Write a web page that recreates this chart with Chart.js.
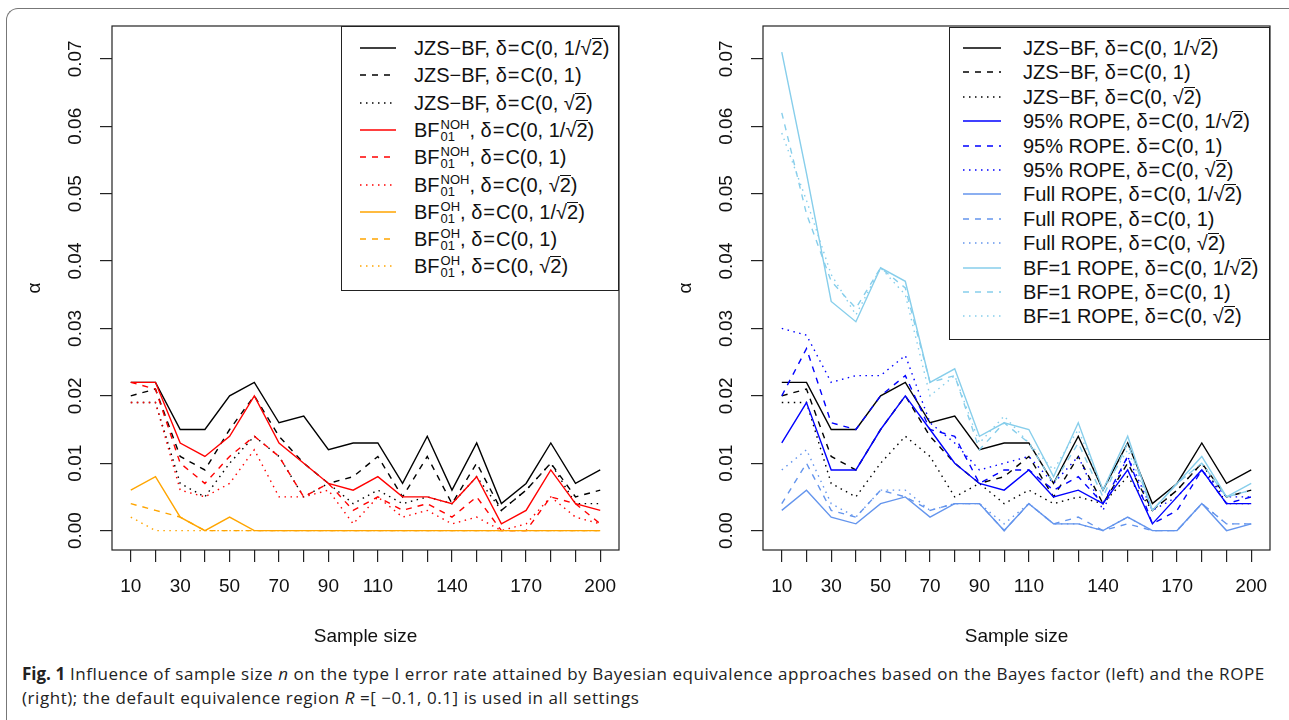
<!DOCTYPE html>
<html>
<head>
<meta charset="utf-8">
<script src="https://cdn.jsdelivr.net/npm/chart.js@4.4.1/dist/chart.umd.min.js"></script>
<style>
  body { margin: 0; background: #fff; width: 1289px; height: 720px; overflow: hidden; position: relative; font-family: "Liberation Sans", Arial, sans-serif; }
  #frame { position: absolute; left: 6px; top: 8px; right: -30px; bottom: -30px; border-left: 1.5px solid #777; border-top: 1.5px solid #777; border-top-left-radius: 12px; }
  .panel { position: absolute; top: 0; width: 638px; height: 660px; }
  .legend { position: absolute; border: 1.2px solid #222; background: #fff; box-sizing: border-box; }
  .row { position: absolute; left: 0; right: 0; height: 26px; color: #111; font-size: 20px; white-space: nowrap; }
  .row svg { position: absolute; top: 0; }
  .row .txt { position: absolute; top: 2px; line-height: 22px; }
  .ov { display: inline-block; border-top: 1.2px solid #111; line-height: 0.95; }
  .eq { margin: 0 1px; }
  .ss { display: inline-flex; flex-direction: column; font-size: 13px; line-height: 12px; vertical-align: 8px; margin-left: 1px; }
  #caption { position: absolute; left: 22px; top: 662px; font-family: "Open Sans", sans-serif; font-size: 17px; letter-spacing: 0.55px; line-height: 24px; color: #222; white-space: nowrap; }
  #caption b { font-weight: 700; letter-spacing: 0; }
</style>
</head>
<body>
<div id="frame"></div>
<canvas id="leftChart" class="panel" width="638" height="660" style="left:0"></canvas>
<canvas id="rightChart" class="panel" width="638" height="660" style="left:651px"></canvas>
<div id="leftLegend" class="legend" style="left:341px; top:26px; width:278px; height:265px"></div>
<div id="rightLegend" class="legend" style="left:949px; top:27px; width:321px; height:313px"></div>
<div id="caption"><b>Fig. 1</b> Influence of sample size <i>n</i> on the type I error rate attained by Bayesian equivalence approaches based on the Bayes factor (left) and the ROPE<br>(right); the default equivalence region <i>R</i> =[ −0.1, 0.1] is used in all settings</div>

<script>
// sample sizes and axis ticks
const sampleSizes = [10, 20, 30, 40, 50, 60, 70, 80, 90, 100, 110, 120, 130, 140, 150, 160, 170, 180, 190, 200];
const xTickLabels = [10, 30, 50, 70, 90, 110, 140, 170, 200];
const yTickValues = [0, 0.01, 0.02, 0.03, 0.04, 0.05, 0.06, 0.07];

// JZS Bayes factor (both panels)
const jzsA = [0.022, 0.022, 0.015, 0.015, 0.020, 0.022, 0.016, 0.017, 0.012, 0.013, 0.013, 0.007, 0.014, 0.006, 0.013, 0.004, 0.007, 0.013, 0.007, 0.009];
const jzsB = [0.020, 0.021, 0.011, 0.009, 0.015, 0.020, 0.014, 0.010, 0.007, 0.008, 0.011, 0.005, 0.011, 0.004, 0.010, 0.003, 0.006, 0.010, 0.005, 0.006];
const jzsC = [0.019, 0.019, 0.007, 0.005, 0.010, 0.014, 0.011, 0.005, 0.007, 0.004, 0.006, 0.004, 0.005, 0.004, 0.008, 0.003, 0.006, 0.010, 0.004, 0.004];

// left panel: BF01 NOH / OH
const nohA = [0.022, 0.022, 0.013, 0.011, 0.014, 0.020, 0.013, 0.010, 0.007, 0.006, 0.008, 0.005, 0.005, 0.004, 0.008, 0.001, 0.003, 0.009, 0.004, 0.003];
const nohB = [0.022, 0.021, 0.010, 0.007, 0.011, 0.014, 0.011, 0.005, 0.007, 0.003, 0.005, 0.003, 0.004, 0.002, 0.005, 0.000, 0.000, 0.005, 0.004, 0.001];
const nohC = [0.019, 0.019, 0.006, 0.005, 0.007, 0.012, 0.005, 0.005, 0.006, 0.001, 0.005, 0.002, 0.003, 0.001, 0.002, 0.000, 0.001, 0.005, 0.002, 0.001];
const ohA = [0.006, 0.008, 0.002, 0, 0.002, 0, 0, 0, 0, 0, 0, 0, 0, 0, 0, 0, 0, 0, 0, 0];
const ohB = [0.004, 0.003, 0.002, 0, 0, 0, 0, 0, 0, 0, 0, 0, 0, 0, 0, 0, 0, 0, 0, 0];
const ohC = [0.002, 0, 0, 0, 0, 0, 0, 0, 0, 0, 0, 0, 0, 0, 0, 0, 0, 0, 0, 0];

// right panel: ROPE variants
const ropeA = [0.013, 0.019, 0.009, 0.009, 0.015, 0.020, 0.015, 0.010, 0.007, 0.006, 0.009, 0.005, 0.006, 0.004, 0.009, 0.001, 0.005, 0.009, 0.004, 0.004];
const ropeB = [0.020, 0.027, 0.016, 0.015, 0.020, 0.023, 0.015, 0.014, 0.007, 0.009, 0.009, 0.006, 0.008, 0.004, 0.011, 0.001, 0.003, 0.009, 0.004, 0.005];
const ropeC = [0.030, 0.029, 0.022, 0.023, 0.023, 0.026, 0.016, 0.013, 0.009, 0.010, 0.011, 0.007, 0.011, 0.003, 0.011, 0.003, 0.005, 0.009, 0.005, 0.005];
const fullA = [0.003, 0.006, 0.002, 0.001, 0.004, 0.005, 0.002, 0.004, 0.004, 0.000, 0.004, 0.001, 0.001, 0.000, 0.002, 0.000, 0.000, 0.004, 0.000, 0.001];
const fullB = [0.004, 0.010, 0.003, 0.002, 0.006, 0.005, 0.003, 0.004, 0.004, 0.000, 0.004, 0.001, 0.002, 0.000, 0.001, 0.000, 0.000, 0.004, 0.001, 0.001];
const fullC = [0.009, 0.012, 0.004, 0.002, 0.006, 0.006, 0.003, 0.004, 0.004, 0.001, 0.004, 0.001, 0.001, 0.000, 0.002, 0.000, 0.000, 0.004, 0.001, 0.001];
const bf1A = [0.071, 0.053, 0.034, 0.031, 0.039, 0.037, 0.022, 0.024, 0.014, 0.016, 0.015, 0.008, 0.016, 0.006, 0.014, 0.003, 0.007, 0.011, 0.005, 0.007];
const bf1B = [0.062, 0.047, 0.037, 0.033, 0.039, 0.036, 0.022, 0.023, 0.012, 0.016, 0.013, 0.007, 0.013, 0.005, 0.013, 0.003, 0.007, 0.010, 0.005, 0.006];
const bf1C = [0.059, 0.049, 0.038, 0.032, 0.039, 0.035, 0.020, 0.023, 0.013, 0.017, 0.013, 0.009, 0.015, 0.006, 0.012, 0.003, 0.007, 0.010, 0.005, 0.006];

const sq = '√<span class="ov">2</span>';
const eq = '<span class="eq">=</span>';
const deltas = ['δ' + eq + 'C(0, 1/' + sq + ')', 'δ' + eq + 'C(0, 1)', 'δ' + eq + 'C(0, ' + sq + ')'];
const dashes = [[], [6, 6], [1.5, 4.5]];
const bf = (sup) => 'BF<span class="ss"><span>' + sup + '</span><span>01</span></span>';

const leftSeries = [
    { data: jzsA, color: "#000000", dash: 0, label: 'JZS−BF, ' + deltas[0] },
    { data: jzsB, color: "#000000", dash: 1, label: 'JZS−BF, ' + deltas[1] },
    { data: jzsC, color: "#000000", dash: 2, label: 'JZS−BF, ' + deltas[2] },
    { data: nohA, color: "#ff0000", dash: 0, label: bf('NOH') + ', ' + deltas[0] },
    { data: nohB, color: "#ff0000", dash: 1, label: bf('NOH') + ', ' + deltas[1] },
    { data: nohC, color: "#ff0000", dash: 2, label: bf('NOH') + ', ' + deltas[2] },
    { data: ohA, color: "#ffa500", dash: 0, label: bf('OH') + ', ' + deltas[0] },
    { data: ohB, color: "#ffa500", dash: 1, label: bf('OH') + ', ' + deltas[1] },
    { data: ohC, color: "#ffa500", dash: 2, label: bf('OH') + ', ' + deltas[2] }
];

const rightSeries = [
    { data: jzsA, color: "#000000", dash: 0, label: 'JZS−BF, ' + deltas[0] },
    { data: jzsB, color: "#000000", dash: 1, label: 'JZS−BF, ' + deltas[1] },
    { data: jzsC, color: "#000000", dash: 2, label: 'JZS−BF, ' + deltas[2] },
    { data: ropeA, color: "#0000ff", dash: 0, label: '95% ROPE, ' + deltas[0] },
    { data: ropeB, color: "#0000ff", dash: 1, label: '95% ROPE. ' + deltas[1] },
    { data: ropeC, color: "#0000ff", dash: 2, label: '95% ROPE, ' + deltas[2] },
    { data: fullA, color: "#6495ed", dash: 0, label: 'Full ROPE, ' + deltas[0] },
    { data: fullB, color: "#6495ed", dash: 1, label: 'Full ROPE, ' + deltas[1] },
    { data: fullC, color: "#6495ed", dash: 2, label: 'Full ROPE, ' + deltas[2] },
    { data: bf1A, color: "#87ceeb", dash: 0, label: 'BF=1 ROPE, ' + deltas[0] },
    { data: bf1B, color: "#87ceeb", dash: 1, label: 'BF=1 ROPE, ' + deltas[1] },
    { data: bf1C, color: "#87ceeb", dash: 2, label: 'BF=1 ROPE, ' + deltas[2] }
];

// R-style box around the plot region
const boxPlugin = {
    id: "plotBox",
    afterDraw(chart) {
        const { ctx, chartArea: a } = chart;
        ctx.save();
        ctx.strokeStyle = "#222";
        ctx.lineWidth = 1.2;
        ctx.strokeRect(a.left, a.top, a.right - a.left, a.bottom - a.top);
        ctx.restore();
    }
};

function makeChart(canvasId, series) {
    const n = series.length;
    return new Chart(document.getElementById(canvasId), {
        type: "line",
        data: {
            datasets: series.map((s, i) => ({
                data: sampleSizes.map((x, j) => ({ x: x, y: s.data[j] })),
                borderColor: s.color,
                borderWidth: 1.4,
                borderDash: dashes[s.dash],
                pointRadius: 0,
                tension: 0,
                fill: false,
                order: n - i
            }))
        },
        options: {
            responsive: false,
            animation: false,
            devicePixelRatio: 1,
            layout: { padding: { top: 26, right: 19, left: 0, bottom: 0 } },
            plugins: { legend: { display: false }, tooltip: { enabled: false } },
            scales: {
                x: {
                    type: "linear",
                    min: 2.4,
                    max: 207.6,
                    afterBuildTicks: (s) => { s.ticks = sampleSizes.map(v => ({ value: v })); },
                    afterFit: (s) => { s.height = 110; },
                    ticks: {
                        autoSkip: false,
                        maxRotation: 0,
                        padding: 13,
                        color: "#111",
                        font: { family: "Liberation Sans", size: 19 },
                        callback: (v) => xTickLabels.includes(v) ? String(v) : ""
                    },
                    grid: { drawOnChartArea: false, drawTicks: true, tickLength: 12, color: "#222", lineWidth: 1.2 },
                    border: { display: false },
                    title: { display: true, text: "Sample size", color: "#111", font: { family: "Liberation Sans", size: 19 }, padding: { bottom: 12 } }
                },
                y: {
                    type: "linear",
                    min: -0.00288,
                    max: 0.07488,
                    afterBuildTicks: (s) => { s.ticks = yTickValues.map(v => ({ value: v })); },
                    afterFit: (s) => { s.width = 112; },
                    ticks: {
                        minRotation: 90,
                        maxRotation: 90,
                        crossAlign: "center",
                        padding: 6,
                        color: "#111",
                        font: { family: "Liberation Sans", size: 19 },
                        callback: (v) => v.toFixed(2)
                    },
                    grid: { drawOnChartArea: false, drawTicks: true, tickLength: 12, color: "#222", lineWidth: 1.2 },
                    border: { display: false },
                    title: { display: true, text: "α", color: "#111", font: { family: "Liberation Sans", size: 19 }, padding: { top: 23 } }
                }
            }
        },
        plugins: [boxPlugin]
    });
}

function buildLegend(boxId, series, firstY, step, lineX, lineW, textX) {
    const box = document.getElementById(boxId);
    series.forEach((s, i) => {
        const row = document.createElement("div");
        row.className = "row";
        row.style.top = (firstY + i * step - 13) + "px";
        const dash = dashes[s.dash].length ? dashes[s.dash].join(" ") : "none";
        row.innerHTML =
            '<svg width="' + (lineX + lineW) + '" height="26"><line x1="' + lineX + '" y1="13" x2="' + (lineX + lineW) +
            '" y2="13" stroke="' + s.color + '" stroke-width="1.4" stroke-dasharray="' + dash + '"/></svg>' +
            '<span class="txt" style="left:' + textX + 'px">' + s.label + '</span>';
        box.appendChild(row);
    });
}

makeChart("leftChart", leftSeries);
makeChart("rightChart", rightSeries);
buildLegend("leftLegend", leftSeries, 21, 27.3, 18, 36, 72);
buildLegend("rightLegend", rightSeries, 20, 24.4, 13, 38, 73);
</script>
</body>
</html>
